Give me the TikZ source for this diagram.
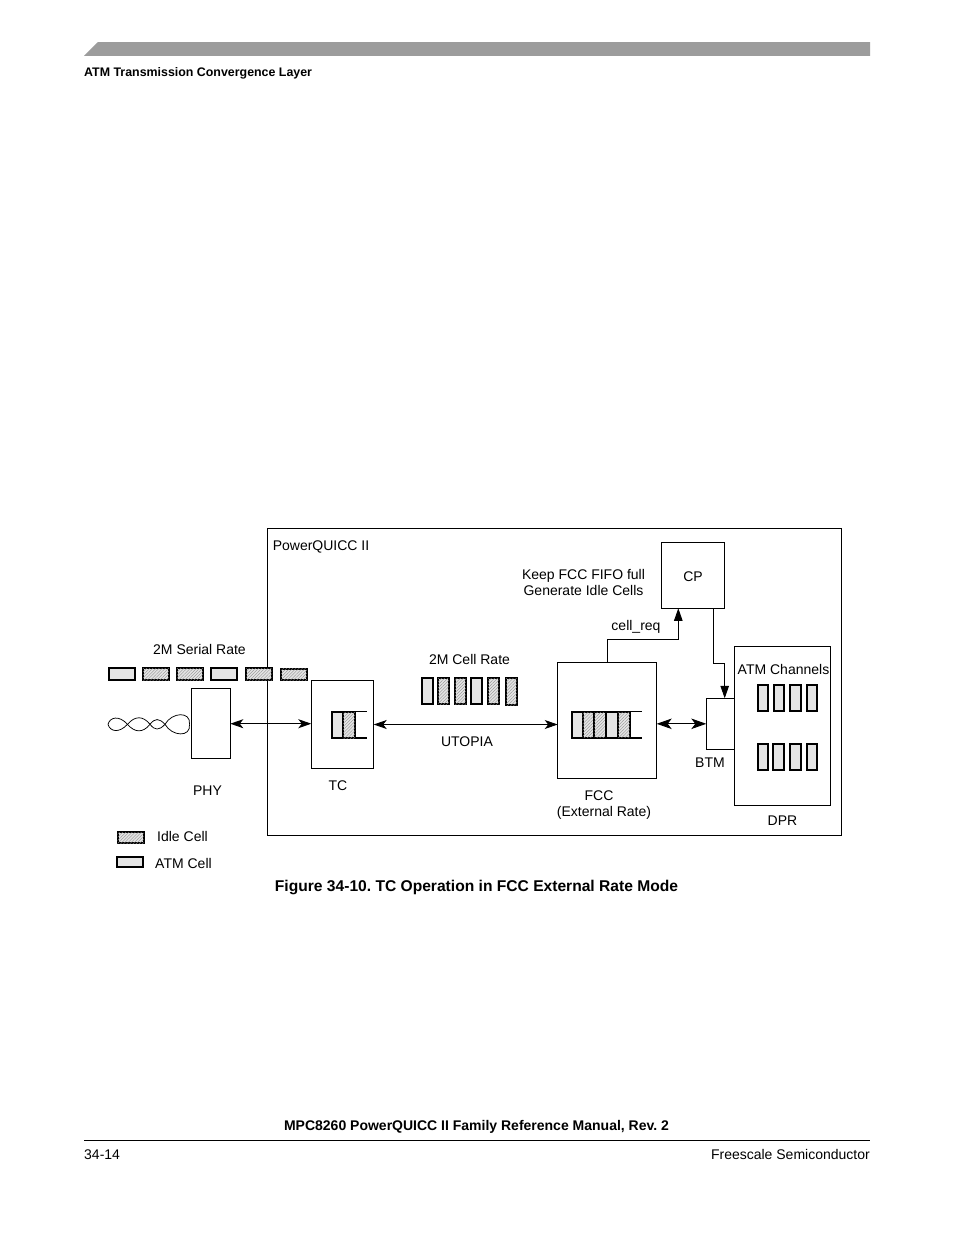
\documentclass[tikz,border=0pt]{standalone}
\usepackage{fontspec}
\setmainfont{Liberation Sans}
\usetikzlibrary{patterns.meta,arrows.meta}
\definecolor{cellgray}{HTML}{E4E4E4}
\definecolor{bandgray}{HTML}{9C9C9C}
\tikzset{
  box/.style={draw=black,line width=0.95pt,fill=white,inner sep=0pt,outer sep=0pt},
  atmcell/.style={draw=black,line width=2.1pt,fill=cellgray,inner sep=0pt,outer sep=0pt},
  idlecell/.style={draw=black,line width=2.1pt,fill=cellgray,inner sep=0pt,outer sep=0pt,
    postaction={pattern={Lines[angle=45,distance=2.2pt,line width=0.35pt]},pattern color=black!45}},
  lbl/.style={inner sep=0pt,font=\fontsize{14}{16.5}\selectfont,align=center},
  bold/.style={inner sep=0pt,font=\fontsize{14}{16.5}\selectfont\bfseries},
  conn/.style={line width=0.95pt},
  bigboth/.style={{Stealth[length=13pt,width=9pt,inset=3.5pt]}-{Stealth[length=13pt,width=9pt,inset=3.5pt]}},
  hugeboth/.style={{Stealth[length=15pt,width=10.5pt,inset=4pt]}-{Stealth[length=15pt,width=10.5pt,inset=4pt]}},
  solidhead/.style={-{Stealth[length=12.5pt,width=8.5pt,inset=0pt]}}
}
\newcommand{\bx}[6]{\node[#6,minimum width={#4-#2},minimum height={#5-#3}] (#1) at ({(#2+#4)/2},{(#3+#5)/2}) {};}
\frenchspacing
\begin{document}
\frenchspacing
\begin{tikzpicture}[x=1pt,y=-1pt]
\useasboundingbox (0,0) rectangle (954,1235);
\fill[white] (0,0) rectangle (954,1235);
% page furniture
\fill[bandgray] (84,55.8) -- (98,42) -- (870,42) -- (870,55.8) -- cycle;
\node[bold,anchor=west,font=\fontsize{12.4}{15}\selectfont\bfseries] (hdr) at (84,73) {ATM Transmission Convergence Layer};
\node[bold,font=\fontsize{14}{16}\selectfont\bfseries] (foot) at (476.5,1127) {MPC8260 PowerQUICC II Family Reference Manual, Rev. 2};
\coordinate (rl) at (84,1140.5); \coordinate (rr) at (870,1140.5);
\draw[line width=0.8pt] (rl) -- (rr);
\node[lbl,anchor=west] (pg) at (84,1155) {34-14};
\node[lbl,anchor=east] (fs) at (870,1154) {Freescale Semiconductor};
\node[bold,font=\fontsize{15.6}{18}\selectfont\bfseries] (cap) at (476.5,887) {Figure 34-10. TC Operation in FCC External Rate Mode};
% main boxes
\bx{pq}{267.5}{528.5}{841.5}{835.5}{box}
\bx{phy}{191.3}{688.7}{230.3}{758.7}{box}
\bx{tc}{311.3}{680.7}{373.7}{768.3}{box}
\bx{fcc}{557.7}{662.7}{656.7}{778.3}{box}
\bx{cp}{661.3}{542.3}{724.3}{608.3}{box}
\bx{btm}{706.3}{698.3}{734.3}{749.3}{box}
\bx{dpr}{734.3}{646.7}{830.7}{805.3}{box}
% serial cells
\bx{s1}{108.8}{668.4}{134.8}{680}{atmcell}
\bx{s2}{142.8}{668.4}{168.8}{680}{idlecell}
\bx{s3}{176.8}{668.4}{202.8}{680}{idlecell}
\bx{s4}{211.2}{668.4}{237.2}{680}{atmcell}
\bx{s5}{246.2}{668.4}{272.2}{680}{idlecell}
\bx{s6}{280.8}{668.8}{306.8}{680.4}{idlecell}
% cell-rate cells
\bx{c1}{422}{678}{433.2}{704}{atmcell}
\bx{c2}{438}{678}{449.2}{704}{idlecell}
\bx{c3}{454.8}{678}{466}{704}{idlecell}
\bx{c4}{471.2}{678}{482.4}{704}{atmcell}
\bx{c5}{488.2}{678}{499.4}{704}{idlecell}
\bx{c6}{506.2}{678}{517.2}{705}{idlecell}
% TC queue
\bx{tq1}{332.2}{712}{343}{738}{atmcell}
\bx{tq2}{343}{712}{355}{738}{idlecell}
\coordinate (tqa) at (355,711.6); \coordinate (tqb) at (367,711.6);
\coordinate (tqc) at (355,738); \coordinate (tqd) at (367,738);
\draw[line width=0.9pt] (tqa) -- (tqb);
\draw[line width=2.1pt] (tqc) -- (tqd);
% FCC queue
\bx{fq1}{571.6}{712.2}{582.6}{737.6}{atmcell}
\bx{fq2}{582.6}{712.2}{594.4}{737.6}{idlecell}
\bx{fq3}{594.4}{712.2}{605.8}{737.6}{idlecell}
\bx{fq4}{605.8}{712.2}{617.8}{737.6}{atmcell}
\bx{fq5}{617.8}{712.2}{629.8}{737.6}{idlecell}
\coordinate (fqa) at (629.8,711.7); \coordinate (fqb) at (641.7,711.7);
\coordinate (fqc) at (629.8,737.8); \coordinate (fqd) at (641.7,737.8);
\draw[line width=0.9pt] (fqa) -- (fqb);
\draw[line width=2.1pt] (fqc) -- (fqd);
% DPR cells
\bx{d1}{757.6}{684.6}{768}{710.6}{atmcell}
\bx{d2}{773.8}{684.6}{784.2}{710.6}{atmcell}
\bx{d3}{790.2}{684.6}{800.6}{710.6}{atmcell}
\bx{d4}{806.6}{684.6}{817.2}{710.6}{atmcell}
\bx{e1}{757.6}{743.6}{768}{769.6}{atmcell}
\bx{e2}{773.2}{743.6}{783.6}{769.6}{atmcell}
\bx{e3}{790.2}{743.6}{800.6}{769.6}{atmcell}
\bx{e4}{806.6}{743.6}{817.2}{769.6}{atmcell}
% legend
\bx{li}{117.6}{832.2}{143.6}{843}{idlecell}
\bx{la}{116.6}{856.6}{143}{867}{atmcell}
% twisted pair
\coordinate (wa) at (108,724.3);
\coordinate (wb) at (127.5,724.3);
\coordinate (wc) at (150,724.3);
\coordinate (wd) at (165,724.3);
\coordinate (we) at (189.5,724.3);
\draw[line width=0.75pt] (wa) .. controls (110,717) and (119,715) .. (wb)
  .. controls (135,733) and (143,733) .. (wc)
  .. controls (155,718) and (159,718) .. (wd)
  .. controls (172,712) and (191,711) .. (we);
\draw[line width=0.75pt] (wa) .. controls (110,731.6) and (119,733.6) .. (wb)
  .. controls (135,715.6) and (143,715.6) .. (wc)
  .. controls (155,730.6) and (159,730.6) .. (wd)
  .. controls (172,736.6) and (191,737.6) .. (we);
% connectors
\draw[conn,bigboth] (phy.east) -- (phy.east -| tc.west);
\coordinate (fccin) at (fcc.west |- tc.east);
\draw[conn,bigboth] (tc.east) -- (fccin);
\draw[conn,hugeboth] (btm.west -| fcc.east) -- (btm.west);
\coordinate (reqbend) at (678.3,639);
\draw[conn,solidhead] (fcc.north) |- (reqbend) -- (reqbend |- cp.south);
\coordinate (cpout) at (713.3,608.3);
\coordinate (cpbend) at (713.3,663.3);
\coordinate (btmin) at (724.7,698.3);
\draw[conn,solidhead] (cpout) -- (cpbend) -| (btmin);
% labels
\node[lbl] (t1) at (199.5,649) {2M Serial Rate};
\node[lbl] (t2) at (207.5,791) {PHY};
\node[lbl] (t3) at (338,785.5) {TC};
\node[lbl] (t4) at (182.5,836.5) {Idle Cell};
\node[lbl] (t5) at (183.5,863.5) {ATM Cell};
\node[lbl] (t6) at (321,547) {PowerQUICC II};
\node[lbl] (t7) at (469.5,659.5) {2M Cell Rate};
\node[lbl] (t8) at (467,742) {UTOPIA};
\node[lbl] (t9) at (583.5,582.5) {Keep FCC FIFO full\\Generate Idle Cells};
\node[lbl] (t10) at (636,626.5) {cell\_req};
\node[lbl] (t11) at (693,576.5) {CP};
\node[lbl] (t12) at (783.5,669.5) {ATM Channels};
\node[lbl] (t13) at (710,763) {BTM};
\node[lbl] (t14) at (782.5,821) {DPR};
\node[lbl] (t15) at (604,805) {\makebox[0pt]{\hspace*{-10pt}FCC}\\(External Rate)};
\end{tikzpicture}
\end{document}
